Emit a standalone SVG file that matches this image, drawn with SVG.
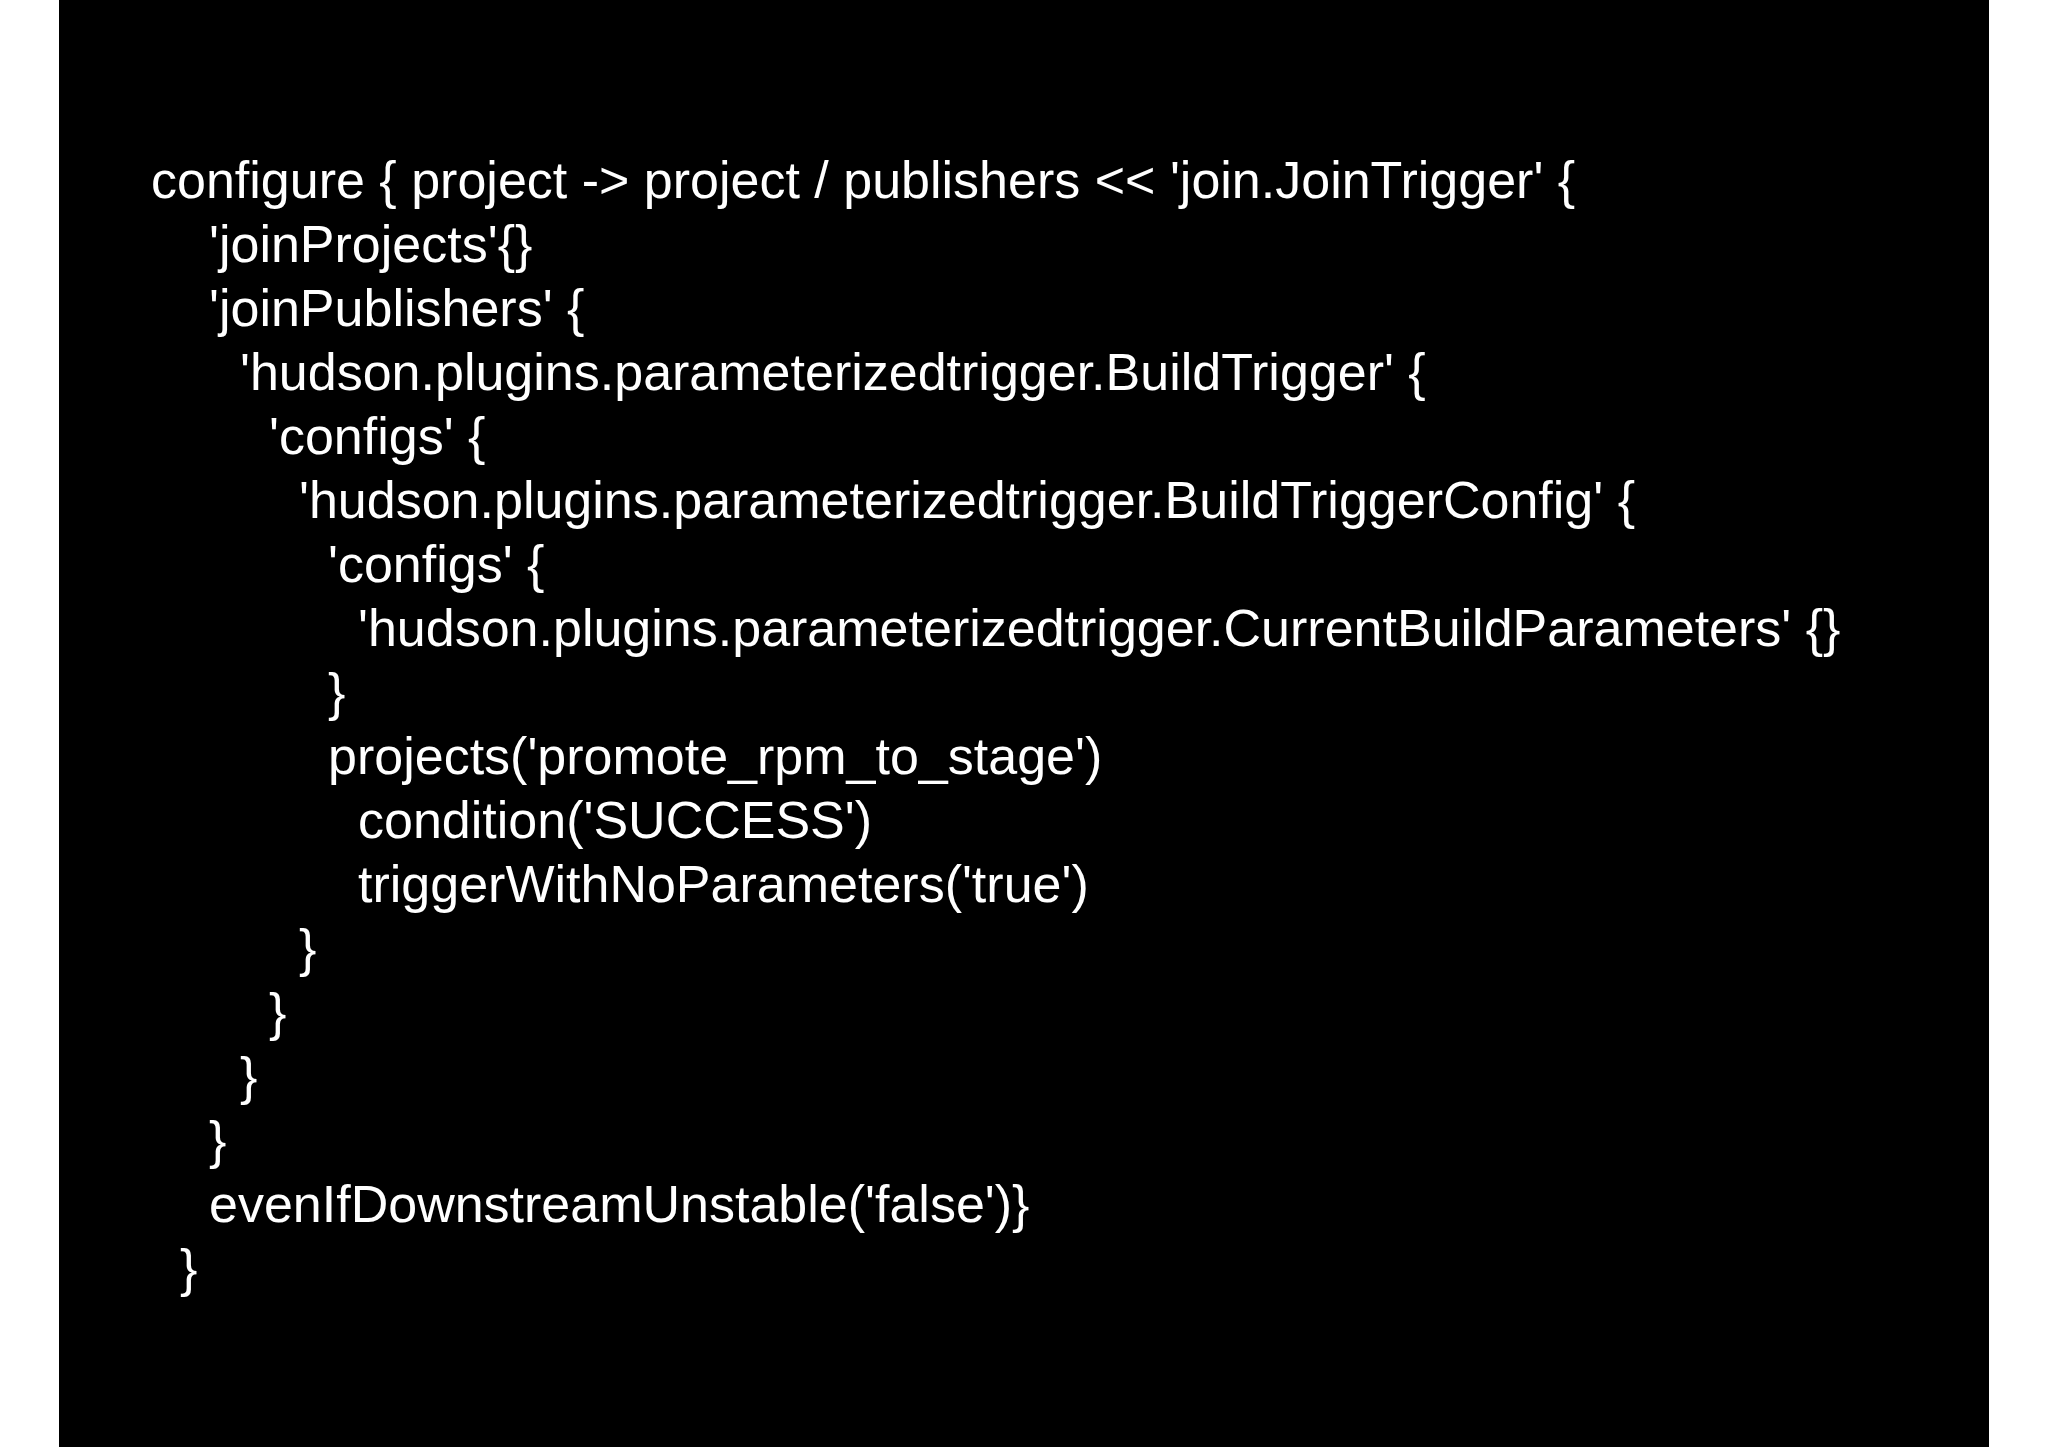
<svg xmlns="http://www.w3.org/2000/svg" width="2048" height="1447" viewBox="0 0 2048 1447">
<style>text{font-family:"Liberation Sans",Arial,sans-serif;font-size:52px;fill:#fff;white-space:pre}</style>
<rect width="2048" height="1447" fill="#fff"/>
<rect x="59" y="0" width="1930" height="1447" fill="#000"/>
<g id="code">
<text x="151" y="198">configure { project -&gt; project / publishers &lt;&lt; 'join.JoinTrigger' {</text>
<text x="209" y="262">'joinProjects'{}</text>
<text x="209" y="326">'joinPublishers' {</text>
<text x="240" y="390">'hudson.plugins.parameterizedtrigger.BuildTrigger' {</text>
<text x="269" y="454">'configs' {</text>
<text x="299" y="518">'hudson.plugins.parameterizedtrigger.BuildTriggerConfig' {</text>
<text x="328" y="582">'configs' {</text>
<text x="358" y="646">'hudson.plugins.parameterizedtrigger.CurrentBuildParameters' {}</text>
<text x="328" y="710">}</text>
<text x="328" y="774">projects('promote_rpm_to_stage')</text>
<text x="358" y="838">condition('SUCCESS')</text>
<text x="358" y="902">triggerWithNoParameters('true')</text>
<text x="299" y="966">}</text>
<text x="269" y="1030">}</text>
<text x="240" y="1094">}</text>
<text x="209" y="1158">}</text>
<text x="209" y="1222">evenIfDownstreamUnstable('false')}</text>
<text x="180" y="1286">}</text>
</g>
</svg>
